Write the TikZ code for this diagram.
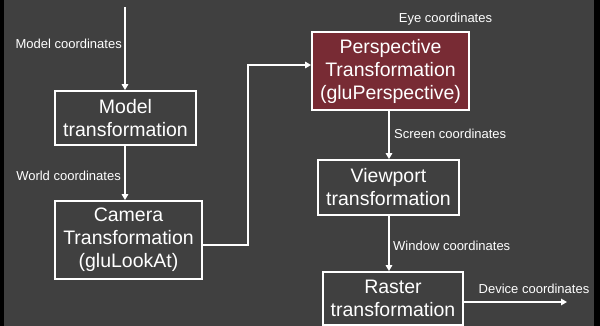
\documentclass[tikz,border=0pt]{standalone}
\usepackage{fontspec}
\setmainfont{Liberation Sans}
\usetikzlibrary{arrows.meta}
\definecolor{slate}{HTML}{404040}
\definecolor{wine}{HTML}{782B34}
\tikzset{
  stage/.style={draw=white, line width=1.8pt, text=white, align=center,
    font=\fontsize{19.5}{23}\selectfont, inner sep=0pt, minimum width=#1},
  stage/.default=140pt,
  flow/.style={draw=white, line width=1.5pt,
    -{Triangle[length=6pt,width=6.5pt]}},
  tag/.style={text=white, font=\fontsize{13}{15}\selectfont, inner sep=0pt}
}
\begin{document}
\begin{tikzpicture}[x=1pt,y=-1pt]
  % backdrop with dark side bands
  \fill[black] (0,0) rectangle (600,326);
  \fill[slate] (4,0) rectangle (594,326);
  \useasboundingbox (0,0) rectangle (600,326);

  % pipeline stages
  \node[stage=141pt, minimum height=54pt] (model) at (125.5,118)
    {Model\\transformation};
  \node[stage=147pt, minimum height=78pt] (camera) at (128.5,240)
    {Camera\\Transformation\\(gluLookAt)};
  \node[stage=157pt, minimum height=78pt, fill=wine] (persp) at (390.5,71)
    {Perspective\\Transformation\\(gluPerspective)};
  \node[stage=141pt, minimum height=55pt] (viewport) at (388.5,187.5)
    {Viewport\\transformation};
  \node[stage=140pt, minimum height=53pt] (raster) at (393,298.5)
    {Raster\\transformation};

  % free ends and routing points
  \coordinate (src) at (125,7);
  \coordinate (bend) at (248,65);
  \coordinate (dev) at (567,302);
  \coordinate (rcol) at (389,0);

  % connectors
  \draw[flow] (src) -- (src |- model.north);
  \draw[flow] (src |- model.south) -- (src |- camera.north);
  \draw[flow] ([yshift=-5pt]camera.east) -| (bend) -- (bend -| persp.west);
  \draw[flow] (rcol |- persp.south) -- (rcol |- viewport.north);
  \draw[flow] (rcol |- viewport.south) -- (rcol |- raster.north);
  \draw[flow] (raster.east |- dev) -- (dev);

  % coordinate-system labels
  \node[tag, anchor=east] (lmodel) at (122,44) {Model coordinates};
  \node[tag, anchor=east] (lworld) at (121,176) {World coordinates};
  \node[tag] (leye) at (445.5,19) {Eye coordinates};
  \node[tag, anchor=west] (lscreen) at (394,134) {Screen coordinates};
  \node[tag, anchor=west] (lwindow) at (393,246) {Window coordinates};
  \node[tag] (ldevice) at (534,289) {Device coordinates};
\end{tikzpicture}
\end{document}
